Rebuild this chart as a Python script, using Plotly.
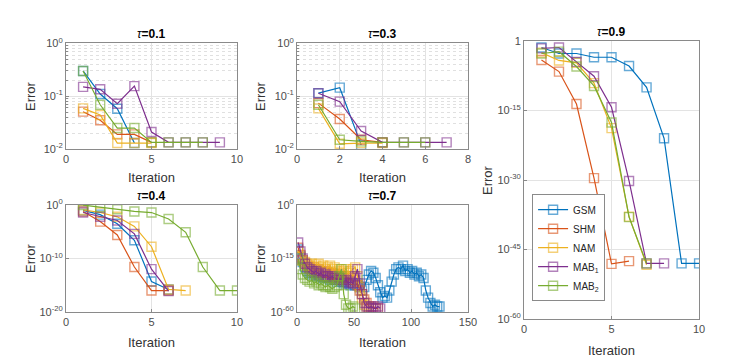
import plotly.graph_objects as go

# MATLAB default line colours
names = ['GSM', 'SHM', 'NAM', 'MAB<sub>1</sub>', 'MAB<sub>2</sub>']
colors = ['#0072BD', '#D95319', '#EDB120', '#7E2F8E', '#77AC30']

# tau = 0.1 (error values)
t1_gsm = [0.30, 0.11, 0.058, 0.013]
t1_shm = [0.051, 0.035, 0.019, 0.019, 0.0134]
t1_nam = [0.059, 0.044, 0.013, 0.013, 0.013]
t1_mab1 = [0.15, 0.135, 0.072, 0.155, 0.021, 0.0134, 0.0134, 0.0134, 0.0134]
t1_mab2 = [0.30, 0.069, 0.025, 0.025, 0.0134, 0.0134, 0.0134, 0.0134]

# tau = 0.3 (error values)
t3_gsm = [0.114, 0.145, 0.012]
t3_shm = [0.074, 0.037, 0.015, 0.0134]
t3_nam = [0.059, 0.0126, 0.013, 0.013]
t3_mab1 = [0.114, 0.079, 0.022, 0.0134, 0.0134, 0.0134, 0.0134]
t3_mab2 = [0.069, 0.015, 0.014, 0.0134, 0.0134, 0.0134]

# tau = 0.4 (log10 of error)
t4_gsm = [-1.0, -1.8, -3.5, -6.6, -14.3, -15.8]
t4_shm = [-1.2, -3.1, -5.6, -11.6, -16.0, -16.0]
t4_nam = [-0.9, -1.4, -2.2, -4.0, -7.8, -15.8, -16.0]
t4_mab1 = [-1.4, -2.2, -2.9, -5.4, -12.0, -16.1]
t4_mab2 = [0.0, -0.4, -0.8, -1.2, -1.4, -2.6, -5.1, -11.6, -16.0, -16.0]

# tau = 0.7 (log10 of error, every second iteration)
t7_gsm = [-25, -29, -32, -35, -37, -38, -39, -38, -40, -39, -40, -41, -40, -41, -42, -41,
          -42, -43, -42, -43, -44, -43, -44, -45, -44, -45, -44, -46, -48, -46, -42, -39,
          -37, -38, -41, -45, -49, -52, -51, -52, -48, -43, -39, -36, -35, -36, -34, -37,
          -36, -38, -37, -39, -38, -40, -39, -41, -48, -52, -55, -57, -56, -57, -57]
t7_shm = [-24, -28, -31, -33, -34, -35, -36, -35, -37, -36, -37, -38, -37, -38, -39, -38,
          -39, -40, -39, -40, -41, -40, -42, -41, -43, -42, -45, -48, -50, -53, -55, -57,
          -58, -57, -58, -58]
t7_nam = [-26, -29, -31, -32, -33, -34, -33, -35, -34, -33, -35, -34, -36, -35, -34, -36,
          -35, -37, -36, -38, -37, -36, -38, -37, -36, -35, -40, -46, -52, -56, -57]
t7_mab1 = [-21, -26, -30, -33, -35, -36, -37, -38, -37, -39, -38, -40, -39, -40, -41, -40,
           -41, -42, -41, -42, -43, -42, -44, -43, -44, -40, -36, -44, -50, -55, -57, -58,
           -57, -58, -58, -57, -58]
t7_mab2 = [-30, -36, -39, -41, -42, -43, -42, -44, -43, -45, -44, -45, -46, -45, -46, -47,
           -46, -45, -40, -36, -50, -56, -58, -58, -57, -58]

# tau = 0.9 (log10 of error)
t9_gsm = [-1.4, -2.7, -2.7, -3.5, -3.5, -5.4, -10.0, -21.0, -48.0, -48.0]
t9_shm = [-4.1, -6.6, -13.6, -29.6, -48.1, -47.5]
t9_nam = [-2.5, -4.2, -4.7, -9.1, -18.8, -37.9, -48.3]
t9_mab1 = [-1.6, -1.4, -4.5, -7.6, -14.3, -30.2, -48.0, -48.0]
t9_mab2 = [-2.7, -2.3, -5.5, -9.7, -17.6, -38.0, -48.0]

FONT = 'Liberation Sans, Arial, sans-serif'
AXC = '#8a8a8a'
GRIDC = '#e3e3e3'

fig = go.Figure()


def add_series(panel, series, step=1, is_log=False, legend=False):
    for i, vals in enumerate(series):
        xs = [1 + step * k for k in range(len(vals))]
        ys = [10 ** v for v in vals] if is_log else vals
        fig.add_trace(go.Scatter(
            x=xs, y=ys, name=names[i], mode='lines+markers',
            xaxis='x' + panel, yaxis='y' + panel,
            showlegend=legend,
            line=dict(color=colors[i], width=1.2),
            marker=dict(symbol='square-open', size=9, opacity=0.6,
                        color=colors[i], line=dict(width=1.4)),
        ))


add_series('', [t1_gsm, t1_shm, t1_nam, t1_mab1, t1_mab2])
add_series('2', [t3_gsm, t3_shm, t3_nam, t3_mab1, t3_mab2])
add_series('3', [t4_gsm, t4_shm, t4_nam, t4_mab1, t4_mab2], is_log=True)
add_series('4', [t7_gsm, t7_shm, t7_nam, t7_mab1, t7_mab2], step=2, is_log=True)
add_series('5', [t9_gsm, t9_shm, t9_nam, t9_mab1, t9_mab2], is_log=True, legend=True)


def sup(e):
    return '10<sup>%d</sup>' % e


minor_small = [m * 10 ** e for e in (-2, -1) for m in range(2, 10)]

common = dict(showline=True, linecolor=AXC, linewidth=1, mirror=True,
              ticks='inside', ticklen=3, tickcolor=AXC, showgrid=True,
              gridcolor=GRIDC, gridwidth=1, zeroline=False, automargin=False,
              tickfont=dict(family=FONT, size=11, color='#4d4d4d'))

minor_grid = dict(tickvals=minor_small, showgrid=True, griddash='dot',
                  gridcolor='#e0e0e0', ticks='inside', ticklen=2, tickcolor=AXC)

# panel domains (fractions of the 739x361 page)
dx_left = [0.0893, 0.3207]
dx_mid = [0.4019, 0.6333]
dy_top = [0.587, 0.880]
dy_bot = [0.136, 0.432]

fig.update_layout(
    width=739, height=361,
    margin=dict(l=0, r=0, t=0, b=0, autoexpand=False),
    paper_bgcolor='white', plot_bgcolor='white',
    font=dict(family=FONT, color='#262626'),
    xaxis=dict(domain=dx_left, anchor='y', range=[0, 10], tickvals=[0, 5, 10], **common),
    yaxis=dict(domain=dy_top, anchor='x', type='log', range=[-2, 0],
               tickvals=[0.01, 0.1, 1], ticktext=[sup(-2), sup(-1), sup(0)],
               minor=minor_grid, **common),
    xaxis2=dict(domain=dx_mid, anchor='y2', range=[0, 8], tickvals=[0, 2, 4, 6, 8], **common),
    yaxis2=dict(domain=dy_top, anchor='x2', type='log', range=[-2, 0],
                tickvals=[0.01, 0.1, 1], ticktext=[sup(-2), sup(-1), sup(0)],
                minor=minor_grid, **common),
    xaxis3=dict(domain=dx_left, anchor='y3', range=[0, 10], tickvals=[0, 5, 10], **common),
    yaxis3=dict(domain=dy_bot, anchor='x3', type='log', range=[-20, 0],
                tickvals=[1e-20, 1e-10, 1], ticktext=[sup(-20), sup(-10), sup(0)], **common),
    xaxis4=dict(domain=dx_mid, anchor='y4', range=[0, 150], tickvals=[0, 50, 100, 150], **common),
    yaxis4=dict(domain=dy_bot, anchor='x4', type='log', range=[-60, 0],
                tickvals=[1e-60, 1e-30, 1], ticktext=[sup(-60), sup(-15), sup(0)], **common),
    xaxis5=dict(domain=[0.709, 0.946], anchor='y5', range=[0, 10], tickvals=[0, 5, 10], **common),
    yaxis5=dict(domain=[0.1163, 0.8864], anchor='x5', type='log', range=[-60, 0],
                tickvals=[1e-60, 1e-45, 1e-30, 1e-15, 1],
                ticktext=[sup(-60), sup(-45), sup(-30), sup(-15), '1'], **common),
    legend=dict(x=0.72, y=0.462, xanchor='left', yanchor='top',
                bgcolor='white', bordercolor='#8a8a8a', borderwidth=1,
                font=dict(family=FONT, size=10, color='#262626'),
                tracegroupgap=0, itemwidth=30),
)

# titles and axis labels as annotations
titles = [('τ', '0.1', 151, 34), ('τ', '0.3', 382, 34), ('τ', '0.4', 151, 196),
          ('τ', '0.7', 382, 196), ('τ', '0.9', 611, 32)]
ann = []
for sym, val, px, py in titles:
    ann.append(dict(text='<i>%s</i><b>=%s</b>' % (sym, val), x=px / 739, y=1 - py / 361,
                    xref='paper', yref='paper', showarrow=False,
                    xanchor='center', yanchor='middle',
                    font=dict(family=FONT, size=12, color='#000000')))

for px, py in [(151, 178), (382, 178), (151, 342), (382, 342), (611, 350)]:
    ann.append(dict(text='Iteration', x=px / 739, y=1 - py / 361, xref='paper', yref='paper',
                    showarrow=False, xanchor='center', yanchor='middle',
                    font=dict(family=FONT, size=13, color='#333333')))

for px, py in [(30, 96), (260, 96), (30, 258), (260, 258), (487, 180)]:
    ann.append(dict(text='Error', x=px / 739, y=1 - py / 361, xref='paper', yref='paper',
                    showarrow=False, textangle=-90, xanchor='center', yanchor='middle',
                    font=dict(family=FONT, size=13, color='#333333')))

fig.update_layout(annotations=ann)

fig.write_html('out.html', config={'displayModeBar': False},
               post_script="document.body.style.margin='0';")
